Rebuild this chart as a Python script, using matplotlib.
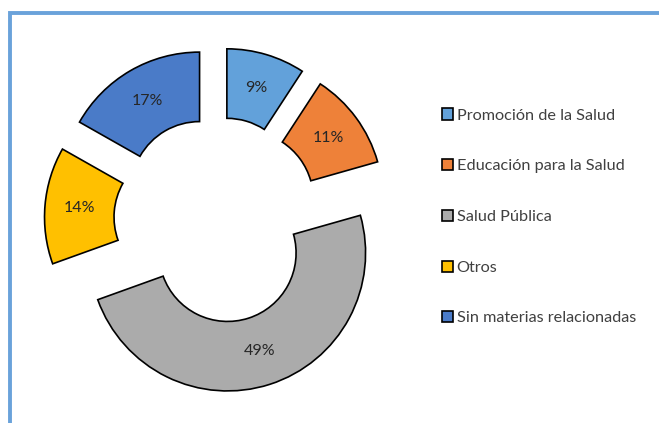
import matplotlib
matplotlib.use("Agg")
import matplotlib.pyplot as plt
from matplotlib.lines import Line2D

plt.rcParams['font.family'] = ['Lato', 'DejaVu Sans']

categories = ["Promoción de la Salud", "Educación para la Salud", "Salud Pública",
              "Otros", "Sin materias relacionadas"]
values = [9.2, 11.4, 48.9, 13.7, 16.8]
colors = ["#62A1DA", "#EE8139", "#ABABAB", "#FFC000", "#4A7BC8"]

W, H = 659, 423
fig = plt.figure(figsize=(W / 100, H / 100), dpi=100)
ax = fig.add_axes([0, 0, 1, 1])

cx, cy = 217, H - 220
R = 138
wedges, texts, autotexts = ax.pie(
    values, colors=colors, startangle=90, counterclock=False,
    radius=R, center=(cx, cy), explode=[34.6] * len(values),
    wedgeprops=dict(width=69.5, edgecolor="black", linewidth=1.2),
    autopct="%.0f%%", pctdistance=0.75,
    textprops=dict(fontsize=11.5, color="#262626"))

ax.set_xlim(0, W)
ax.set_ylim(0, H)
ax.set_aspect("auto")
ax.axis("off")

ax.legend(wedges, categories, loc="upper left",
          bbox_to_anchor=(441.5 / W, 1 - 108.5 / H), bbox_transform=fig.transFigure,
          frameon=False, fontsize=11.7, handlelength=0.68, handleheight=0.68,
          handletextpad=0.25, labelspacing=2.24, borderpad=0, borderaxespad=0,
          labelcolor="#404040")

border = Line2D([9.8 / W, 9.8 / W, 1.0], [0.0, 1 - 12.8 / H, 1 - 12.8 / H],
                transform=fig.transFigure, color="#6AA2DA", linewidth=2.8,
                solid_joinstyle="miter", solid_capstyle="butt")
fig.add_artist(border)

fig.savefig("out.png", dpi=100)
